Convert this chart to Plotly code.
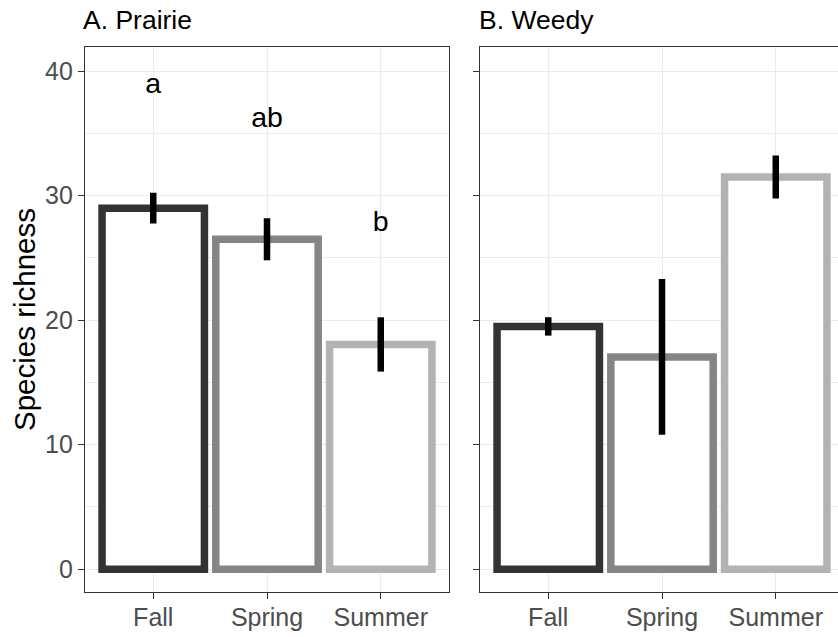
import plotly.graph_objects as go

# Seasons and summary statistics (mean species richness, standard error)
seasons = ["Fall", "Spring", "Summer"]
prairie_mean = [29.0, 26.5, 18.05]
prairie_se = [1.23, 1.69, 2.18]
weedy_mean = [19.5, 17.05, 31.5]
weedy_se = [0.74, 6.25, 1.73]

# Compact-letter display for the prairie panel and the heights where they sit
prairie_letters = ["a", "ab", "b"]
letter_y = [38.8, 36.1, 27.75]

season_colors = ["#333333", "#858585", "#b3b3b3"]
y_ticks = [0, 10, 20, 30, 40]

W, H = 838, 637
FONT = "Liberation Sans, Arial, sans-serif"
TICK_GREY = "#4d4d4d"
GRID = "#ebebeb"
FRAME = "#333333"


def px_x(p):
    return p / W


def px_y(p):
    return 1 - p / H


fig = go.Figure()


def add_panel(xa, ya, means, ses):
    fig.add_trace(go.Bar(
        x=seasons, y=means, width=0.9,
        xaxis=xa, yaxis=ya,
        marker=dict(color="white", line=dict(color=season_colors, width=7.5)),
        error_y=dict(type="data", array=ses, visible=True,
                     color="black", thickness=6.5, width=0),
        showlegend=False, hoverinfo="skip",
    ))


add_panel("x", "y", prairie_mean, prairie_se)
add_panel("x2", "y2", weedy_mean, weedy_se)

fig.add_trace(go.Scatter(
    x=seasons, y=letter_y, text=prairie_letters, mode="text",
    textposition="middle center", xaxis="x", yaxis="y",
    textfont=dict(family=FONT, size=28.5, color="black"),
    showlegend=False, hoverinfo="skip", cliponaxis=False,
))

y_dom = [px_y(592.3), px_y(46.7)]
y_range = [-1.86, 41.97]

common_x = dict(
    type="category", showgrid=True, gridcolor=GRID, gridwidth=1.3,
    showline=True, linecolor=FRAME, linewidth=1.2,
    ticks="outside", ticklen=6, tickcolor=FRAME, tickwidth=1.2,
    tickfont=dict(family=FONT, size=25, color=TICK_GREY),
    ticklabelstandoff=-3,
    zeroline=False, fixedrange=True,
)
common_y = dict(
    range=y_range, domain=y_dom, tickvals=y_ticks,
    showgrid=True, gridcolor=GRID, gridwidth=1.3,
    minor=dict(dtick=5, tick0=0, showgrid=True, gridcolor=GRID, gridwidth=0.7),
    showline=True, linecolor=FRAME, linewidth=1.2,
    ticks="outside", ticklen=6, tickcolor=FRAME, tickwidth=1.2,
    tickfont=dict(family=FONT, size=25, color=TICK_GREY),
    zeroline=False, fixedrange=True,
)

fig.update_layout(
    width=W, height=H,
    margin=dict(l=0, r=0, t=0, b=0),
    paper_bgcolor="white", plot_bgcolor="white",
    bargap=0.1,
    xaxis=dict(common_x, domain=[px_x(85), px_x(449)], range=[-0.6, 2.6],
               anchor="y", mirror=True),
    yaxis=dict(common_y, anchor="x", mirror=True),
    xaxis2=dict(common_x, domain=[px_x(480), 1.0], range=[-0.6, 2.547],
                anchor="y2", mirror=True),
    yaxis2=dict(common_y, anchor="x2", showticklabels=False, mirror=False),
    annotations=[
        dict(text="A. Prairie", xref="paper", yref="paper",
             x=px_x(81), y=px_y(20.3), xanchor="left", yanchor="middle",
             showarrow=False, font=dict(family=FONT, size=26.5, color="black")),
        dict(text="B. Weedy", xref="paper", yref="paper",
             x=px_x(477), y=px_y(20.3), xanchor="left", yanchor="middle",
             showarrow=False, font=dict(family=FONT, size=26.5, color="black")),
        dict(text="Species richness", xref="paper", yref="paper",
             x=px_x(24), y=px_y(320), xanchor="center", yanchor="middle",
             textangle=-90, showarrow=False,
             font=dict(family=FONT, size=29.5, color="black")),
    ],
)

fig.write_html("out.html")
